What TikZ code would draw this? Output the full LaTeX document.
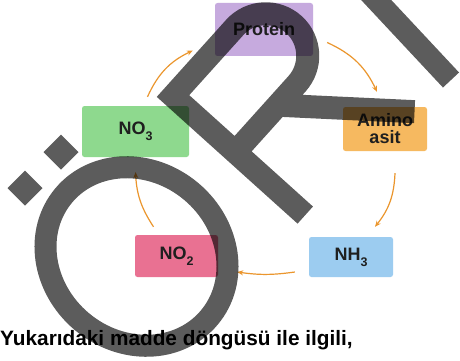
\documentclass[tikz,border=0pt]{standalone}
\usepackage{fontspec}
\setmainfont{Liberation Sans}
\usetikzlibrary{arrows.meta,calc}
\definecolor{cprot}{RGB}{198,170,222}
\definecolor{camino}{RGB}{246,185,96}
\definecolor{cnothree}{RGB}{142,217,142}
\definecolor{cnotwo}{RGB}{233,113,146}
\definecolor{cnh}{RGB}{156,204,240}
\definecolor{carrow}{RGB}{235,150,45}
\newcommand{\lsub}[1]{\raisebox{-6pt}{\fontsize{12.5}{12.5}\selectfont #1}}
\begin{document}
\begin{tikzpicture}[x=1pt,y=-1pt,
  box/.style={rounded corners=2.5pt, inner sep=0pt, align=center,
    font=\fontsize{18}{17}\selectfont\bfseries, text=black!88},
  arr/.style={draw=carrow, line width=1.2pt, -{Stealth[length=6pt,width=5pt]}},
  wm/.style={draw=black, fill=black, opacity=0.64}]
\useasboundingbox (0,0) rectangle (460,361);
\fill[white] (0,0) rectangle (460,361);

% boxes
\node[box, fill=cprot, minimum width=98pt, minimum height=53pt] (protein) at (264,29.5) {Protein};
\node[box, fill=camino, minimum width=84pt, minimum height=44pt] (amino) at (385,129) {Amino\\asit};
\node[box, fill=cnothree, minimum width=107pt, minimum height=51pt] (no3) at (135.5,131.5) {NO\lsub{3}};
\node[box, fill=cnotwo, minimum width=83pt, minimum height=42pt] (no2) at (176.5,256) {NO\lsub{2}};
\node[box, fill=cnh, minimum width=84pt, minimum height=40pt] (nh3) at (351,257) {NH\lsub{3}};

% arrows
\draw[arr] ($(no3.north)+(12,-9)$) to[bend left=20] ($(protein.west)+(-22,21)$);
\draw[arr] ($(protein.east)+(14,13)$) to[bend left=20] ($(amino.north)+(-8,-15)$);
\draw[arr] ($(amino.south)+(10,22)$) to[bend left=18] ($(nh3.north)+(24,-10)$);
\draw[arr] ($(nh3.west)+(-14,15)$) to[bend left=8] ($(no2.east)+(19,16)$);
\draw[arr] ($(no2.north)+(-23,-8)$) to[bend left=15] ($(no3.south)+(0,15)$);

% question text
\node[anchor=base west, inner sep=0pt, font=\fontsize{20.8}{24}\selectfont\bfseries] (question) at (0,345) {Yukarıdaki madde döngüsü ile ilgili,};

% watermark
\fill[wm, draw=none] (61,134.5) -- (78.5,152) -- (61,169.5) -- (43.5,152) -- cycle;
\fill[wm, draw=none] (25,170.5) -- (42.5,188) -- (25,205.5) -- (7.5,188) -- cycle;
\draw[wm, fill=none, line width=22pt, rotate around={-40:(136.5,256.5)}] (136.5,256.5) ellipse [x radius=95, y radius=85];
\draw[wm, fill=none, line width=22pt] (365,-12) -- (451,80);
\begin{scope}[shift={(173,96)}, x={(0.669pt,0.743pt)}, y={(0.743pt,-0.669pt)}]
\draw[wm, fill=none, line width=23pt, line join=miter]
  (0,178) -- (0,0) -- (92,0) arc[start angle=-90, end angle=90, radius=42] -- (0,84)
  (60,80) -- (150,190);
\end{scope}
\end{tikzpicture}
\end{document}
